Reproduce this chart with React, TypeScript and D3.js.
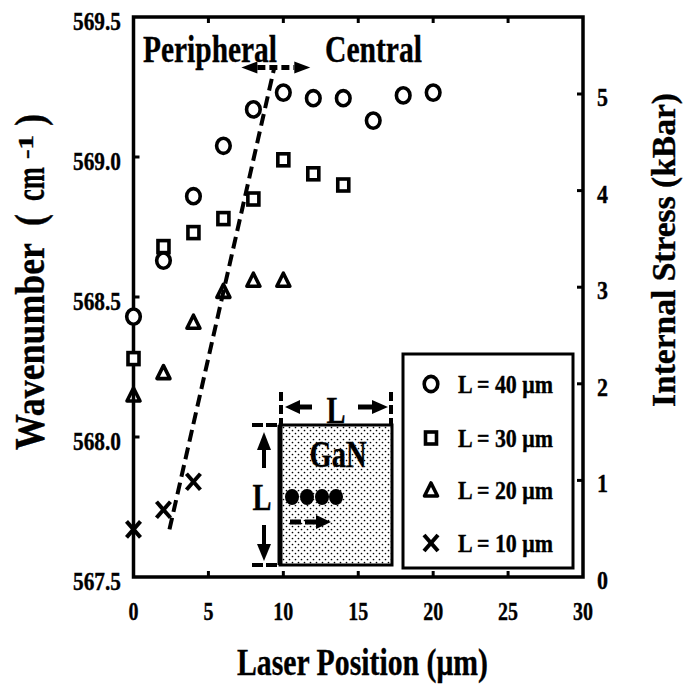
import React from "react";
import * as d3 from "d3";

// Measured Raman peak positions (cm^-1) versus laser position (μm), one series per stripe width L
const positions40 = [0, 2, 4, 6, 8, 10, 12, 14, 16, 18, 20];
const wavenumber40 = [568.43, 568.63, 568.86, 569.04, 569.17, 569.23, 569.21, 569.21, 569.13, 569.22, 569.23];
const positions30 = [0, 2, 4, 6, 8, 10, 12, 14];
const wavenumber30 = [568.28, 568.68, 568.73, 568.78, 568.85, 568.99, 568.94, 568.9];
const positions20 = [0, 2, 4, 6, 8, 10];
const wavenumber20 = [568.15, 568.23, 568.41, 568.52, 568.56, 568.56];
const positions10 = [0, 2, 4];
const wavenumber10 = [567.67, 567.74, 567.84];

// Peripheral → central boundary guide
const trendPositions = [2.4, 9.4];
const trendWavenumbers = [567.67, 569.32];
const boundaryArrow = [7.2, 11.8];

const xTicks = [0, 5, 10, 15, 20, 25, 30];
const yTicks = [567.5, 568.0, 568.5, 569.0, 569.5];
const stressTicks = [0, 1, 2, 3, 4, 5];
const legendLabels = ["L = 40 μm", "L = 30 μm", "L = 20 μm", "L = 10 μm"];
const legendShapes = ["circle", "square", "triangle", "cross"];

const FONT = "'Liberation Serif', 'Times New Roman', Times, serif";
const W = 687;
const H = 687;

type TxtProps = {
  x: number;
  y: number;
  size: number;
  len?: number;
  anchor?: "start" | "middle" | "end";
  rotate?: boolean;
  children: React.ReactNode;
};

function Txt({ x, y, size, len, anchor = "start", rotate = false, children }: TxtProps) {
  return (
    <text
      x={x}
      y={y}
      fontSize={size}
      fontFamily={FONT}
      fontWeight="bold"
      textAnchor={anchor}
      fill="#000"
      stroke="#000"
      strokeWidth={0.35}
      textLength={len}
      lengthAdjust={len ? "spacingAndGlyphs" : undefined}
      transform={rotate ? `rotate(-90, ${x}, ${y})` : undefined}
    >
      {children}
    </text>
  );
}

function Marker({ shape, cx, cy }: { shape: string; cx: number; cy: number }) {
  const sw = 3.6;
  if (shape === "circle") {
    return <ellipse cx={cx} cy={cy} rx={6.8} ry={7.6} fill="#fff" stroke="#000" strokeWidth={sw} />;
  }
  if (shape === "square") {
    return <rect x={cx - 5.5} y={cy - 6} width={11} height={12} fill="#fff" stroke="#000" strokeWidth={sw} />;
  }
  if (shape === "triangle") {
    const pts = [[cx, cy - 7], [cx + 6.5, cy + 6], [cx - 6.5, cy + 6]].map((p) => p.join(",")).join(" ");
    return <polygon points={pts} fill="none" stroke="#000" strokeWidth={sw} strokeLinejoin="round" />;
  }
  return (
    <g stroke="#000" strokeWidth={4}>
      <line x1={cx - 7} y1={cy - 8} x2={cx + 7} y2={cy + 8} />
      <line x1={cx - 7} y1={cy + 8} x2={cx + 7} y2={cy - 8} />
    </g>
  );
}

export default function App() {
  const x = d3.scaleLinear().domain([0, 30]).range([133.5, 583]);
  const y = d3.scaleLinear().domain([567.5, 569.5]).range([577, 17]);
  const stress = d3.scaleLinear().domain([0, 5]).range([577, 94]);

  const series = [
    { shape: "circle", xs: positions40, ys: wavenumber40 },
    { shape: "square", xs: positions30, ys: wavenumber30 },
    { shape: "triangle", xs: positions20, ys: wavenumber20 },
    { shape: "cross", xs: positions10, ys: wavenumber10 },
  ];

  const trendLine = d3
    .line<number>()
    .x((_, i) => x(trendPositions[i]))
    .y((d) => y(d))(trendWavenumbers);

  const x0 = x(0);
  const x1 = x(30);
  const yTop = y(569.5);
  const yBot = y(567.5);
  const tick = 6;

  // boundary double arrow
  const ay = y(trendWavenumbers[1]);
  const aL = x(boundaryArrow[0]);
  const aR = x(boundaryArrow[1]);
  const head = 16;

  // legend box
  const lg = { x: 403, y: 354, w: 170, h: 214 };
  const legendRows = [384, 438, 490, 543];

  // inset sketch of the GaN stripe
  const ins = { x: 280, y: 425, w: 112, h: 140 };
  const dotCenters = [292, 307, 322, 336];

  return (
    <svg
      width={W}
      height={H}
      viewBox={`0 0 ${W} ${H}`}
      style={{ position: "absolute", left: 0, top: 0, background: "#fff" }}
    >
      <defs>
        <pattern id="stipple" width={6} height={6} patternUnits="userSpaceOnUse">
          <rect width={6} height={6} fill="#fff" />
          <circle cx={1.5} cy={1.5} r={0.85} fill="#000" />
          <circle cx={4.5} cy={4.5} r={0.85} fill="#000" />
        </pattern>
      </defs>
      <rect width={W} height={H} fill="#fff" />

      {/* plot frame */}
      <rect x={x0} y={yTop} width={x1 - x0} height={yBot - yTop} fill="none" stroke="#000" strokeWidth={3.5} />

      {/* inward ticks */}
      <g stroke="#000" strokeWidth={3}>
        {xTicks.slice(1, -1).map((t) => (
          <g key={"xt" + t}>
            <line x1={x(t)} x2={x(t)} y1={yBot} y2={yBot - tick} />
            <line x1={x(t)} x2={x(t)} y1={yTop} y2={yTop + tick} />
          </g>
        ))}
        {yTicks.slice(1, -1).map((t) => (
          <line key={"yt" + t} x1={x0} x2={x0 + tick} y1={y(t)} y2={y(t)} />
        ))}
        {stressTicks.slice(1).map((t) => (
          <line key={"st" + t} x1={x1} x2={x1 - tick} y1={stress(t)} y2={stress(t)} />
        ))}
      </g>

      {/* tick labels */}
      {xTicks.map((t) => (
        <Txt key={"xl" + t} x={x(t)} y={620} size={25} len={t < 10 ? 10 : 20} anchor="middle">
          {t}
        </Txt>
      ))}
      {yTicks.map((t) => (
        <Txt key={"yl" + t} x={121} y={y(t) + 13} size={25} len={48} anchor="end">
          {t.toFixed(1)}
        </Txt>
      ))}
      {stressTicks.map((t) => (
        <Txt key={"sl" + t} x={597} y={stress(t) + 12} size={25} len={11}>
          {t}
        </Txt>
      ))}

      {/* axis titles */}
      <Txt x={237} y={675} size={37} len={251}>
        Laser Position (μm)
      </Txt>
      <Txt x={675} y={407} size={34} len={314} rotate>
        Internal Stress (kBar)
      </Txt>
      <Txt x={44} y={450} size={42} len={207} rotate>
        Wavenumber
      </Txt>
      <Txt x={44} y={226} size={42} len={12} rotate>
        (
      </Txt>
      <Txt x={44} y={201} size={42} len={34} rotate>
        cm
      </Txt>
      <Txt x={33} y={159} size={21} len={24} rotate>
        -1
      </Txt>
      <Txt x={44} y={126} size={42} len={12} rotate>
        )
      </Txt>

      {/* region annotations */}
      <Txt x={143} y={62} size={38} len={134}>
        Peripheral
      </Txt>
      <Txt x={325} y={62} size={38} len={97}>
        Central
      </Txt>

      {/* inset: GaN stripe of width L */}
      <g>
        <rect x={ins.x} y={ins.y} width={ins.w} height={ins.h} fill="url(#stipple)" stroke="#000" strokeWidth={3} />
        <line x1={ins.x} x2={ins.x} y1={ins.y} y2={ins.y + ins.h} stroke="#000" strokeWidth={5} />
        <Txt x={ins.x + 58} y={ins.y + 42} size={37} len={57} anchor="middle">
          GaN
        </Txt>
        {dotCenters.map((cx) => (
          <ellipse key={cx} cx={cx} cy={497} rx={7} ry={8} fill="#000" />
        ))}
        {/* laser scan direction */}
        <line x1={290} x2={301} y1={522} y2={522} stroke="#000" strokeWidth={5} />
        <line x1={305} x2={318} y1={522} y2={522} stroke="#000" strokeWidth={5} />
        <polygon points="331,522 316,515 316,529" fill="#000" />

        {/* width dimension */}
        <line x1={ins.x + 1} x2={ins.x + 1} y1={392} y2={ins.y} stroke="#000" strokeWidth={4} strokeDasharray="9,4" />
        <line x1={ins.x + ins.w - 1} x2={ins.x + ins.w - 1} y1={392} y2={ins.y} stroke="#000" strokeWidth={4} strokeDasharray="9,4" />
        <line x1={298} x2={312} y1={407} y2={407} stroke="#000" strokeWidth={5} />
        <polygon points="285,407 300,400 300,414" fill="#000" />
        <line x1={358} x2={373} y1={407} y2={407} stroke="#000" strokeWidth={5} />
        <polygon points="388,407 372,400 372,414" fill="#000" />
        <Txt x={336} y={423} size={37} len={19} anchor="middle">
          L
        </Txt>

        {/* height dimension */}
        <line x1={252} x2={277} y1={ins.y} y2={ins.y} stroke="#000" strokeWidth={4} strokeDasharray="11,3" />
        <line x1={252} x2={277} y1={ins.y + ins.h} y2={ins.y + ins.h} stroke="#000" strokeWidth={4} strokeDasharray="11,3" />
        <line x1={264} x2={264} y1={448} y2={468} stroke="#000" strokeWidth={4} />
        <polygon points="264,432 257,450 271,450" fill="#000" />
        <line x1={264} x2={264} y1={525} y2={546} stroke="#000" strokeWidth={4} />
        <polygon points="264,561 257,544 271,544" fill="#000" />
        <Txt x={262} y={510} size={37} len={19} anchor="middle">
          L
        </Txt>
      </g>

      {/* data markers */}
      {series.map((s) =>
        s.xs.map((px, i) => <Marker key={s.shape + i} shape={s.shape} cx={x(px)} cy={y(s.ys[i])} />)
      )}

      {/* boundary guide */}
      <path d={trendLine ?? ""} fill="none" stroke="#000" strokeWidth={4} strokeDasharray="12,6" />
      <line x1={aL + head} x2={aR - head} y1={ay} y2={ay} stroke="#000" strokeWidth={5} strokeDasharray="8,4" />
      <polygon points={`${aL},${ay} ${aL + head},${ay - 6} ${aL + head},${ay + 6}`} fill="#000" />
      <polygon points={`${aR},${ay} ${aR - head},${ay - 6} ${aR - head},${ay + 6}`} fill="#000" />

      {/* legend */}
      <rect x={lg.x} y={lg.y} width={lg.w} height={lg.h} fill="#fff" stroke="#000" strokeWidth={3} />
      {legendLabels.map((lab, i) => (
        <g key={lab}>
          <Marker shape={legendShapes[i]} cx={431} cy={legendRows[i]} />
          <Txt x={458} y={legendRows[i] + 9} size={25} len={95}>
            {lab}
          </Txt>
        </g>
      ))}
    </svg>
  );
}
